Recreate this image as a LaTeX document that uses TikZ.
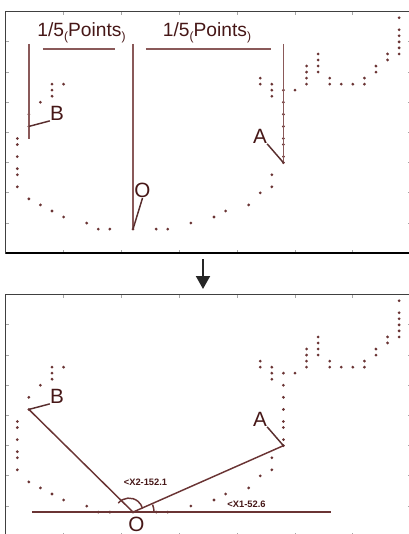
\documentclass[tikz,border=0pt]{standalone}
\usepackage{fontspec}
\setmainfont{Liberation Sans}
\usetikzlibrary{arrows.meta}
\definecolor{plotred}{HTML}{6A3434}
\definecolor{labelred}{HTML}{461717}
\definecolor{guidered}{HTML}{8A5959}

% the data points, in grid units (one step = one sample)
\newcommand{\plotpoints}{%
  \foreach \i/\j in {33/0,33/2,33/3,33/4,33/5,33/6,32/6,32/7,31/8,31/9,
      30/10,30/11,29/11,28/11,27/10,27/11,26/6,26/7,26/8,26/9,
      25/8,25/9,25/10,25/11,24/12,23/12,23/14,23/16,23/18,23/20,
      23/21,23/23,23/24,22/11,22/12,22/13,21/10,21/11,
      22/26,22/28,21/29,20/31,18/32,17/33,15/34,13/35,12/35,10/35,
      8/35,7/35,6/34,4/33,3/32,2/31,1/30,
      0/20,0/21,0/23,0/25,0/26,0/28,1/16,1/18,2/14,3/11,3/12,3/13,4/11}
    \fill [plotred] (\i,\j) circle [radius=1.15pt];
}
% frame and ticks of one plot
\newcommand{\plotframe}{%
  \foreach \k in {4,9,...,29} {
    \draw [tickmark] (\k,-1) -- (\k,-0.5);
    \draw [tickmark] (\k,39) -- (\k,38.5);
  }
  \foreach \k in {4,9,...,34} {
    \draw [tickmark] (-1,\k) -- (-0.74,\k);
    \draw [tickmark] (34,\k) -- (33.74,\k);
  }
  \draw [frameline] (-1,-1) rectangle (34,39);
}

\begin{document}
\begin{tikzpicture}[x=0.75pt, y=0.75pt,
    frameline/.style={draw=black!75, line width=0.9pt},
    tickmark/.style={draw=black!35, line width=0.6pt},
    guide/.style={draw=guidered, line width=1.2pt},
    leader/.style={draw=labelred!90, line width=1.1pt},
    ray/.style={draw=plotred, line width=1.1pt},
    ptlabel/.style={inner sep=0pt, text=labelred, font=\fontsize{15.5}{16}\selectfont},
    spanlabel/.style={inner sep=0pt, text=labelred, font=\fontsize{14.4}{16}\selectfont},
    anglabel/.style={inner sep=0pt, text=labelred, font=\bfseries\fontsize{7}{8}\selectfont}]

  \useasboundingbox (0,0) rectangle (409,-534);

  % upper plot
  \begin{scope}[shift={(17.3,-17.7)}, x=8.6775pt, y=-4.53pt]
    \plotframe
    \draw [draw=black, line width=1.5pt] (-1,39) -- (34,39);
    \plotpoints
    \coordinate (pB1) at (1,18);
    \coordinate (pO1) at (10,35);
    \coordinate (pA1) at (23,24);
    \coordinate (gB1) at (1,4.35);
    \coordinate (gO1) at (10,4.35);
    \coordinate (gA1) at (23,4.35);
    \draw [guide] (gB1) -- (1,20.1);
    \draw [guide] (gO1) -- (pO1);
    \draw [guide] (gA1) -- (pA1);
    \draw [guide] (2.22,5.18) -- (8.44,5.18);
    \draw [guide] (11.12,5.18) -- (21.93,5.18);
  \end{scope}

  \node [spanlabel] (span1) at (81.5,-33) {1/5\raisebox{-0.2em}{\small(}Points\raisebox{-0.2em}{\small)}};
  \node [spanlabel] (span2) at (207,-33) {1/5\raisebox{-0.2em}{\small(}Points\raisebox{-0.2em}{\small)}};

  \node [ptlabel] (labB1) at (57,-113.5) {B};
  \node [ptlabel] (labA1) at (260,-136.5) {A};
  \node [ptlabel] (labO1) at (142.5,-190.5) {O};
  \draw [leader] (labB1.south west) -- (pB1);
  \draw [leader] (labA1.south east) -- (pA1);
  \draw [leader] (labO1.south) -- (pO1);

  % arrow between the plots
  \coordinate (downtail) at (203,-259);
  \coordinate (downtip) at (203,-289);
  \draw [-{Triangle[width=10.5pt,length=9.75pt]}, line width=1.5pt, black!85] (downtail) -- (downtip);

  % lower plot
  \begin{scope}[shift={(17.3,-300.7)}, x=8.6775pt, y=-4.53pt]
    \plotframe
    \plotpoints
    \coordinate (pB2) at (1,18);
    \coordinate (pO2) at (10,35);
    \coordinate (pA2) at (23,24);
    \coordinate (baseL) at (1.27,35);
    \coordinate (baseR) at (27.1,35);
  \end{scope}

  \draw [ray] (baseL) -- (baseR);
  \draw [ray] (pB2) -- (pO2);
  \draw [ray] (pO2) -- (pA2);
  \draw [ray] ([shift={(-14.7,9)}]pO2) arc [start angle=140, end angle=15, radius=14];
  \draw [ray] ([shift={(21,0)}]pO2) arc [start angle=0, end angle=21, radius=21];

  \node [ptlabel] (labB2) at (57,-396.5) {B};
  \node [ptlabel] (labA2) at (260,-419.5) {A};
  \node [ptlabel] (labO2) at (136.5,-524.5) {O};
  \draw [leader] (labB2.south west) -- (pB2);
  \draw [leader] (labA2.south east) -- (pA2);

  \node [anglabel] (angX2) at (145.5,-482.7) {<X2-152.1};
  \node [anglabel] (angX1) at (246.5,-504) {<X1-52.6};
\end{tikzpicture}
\end{document}
